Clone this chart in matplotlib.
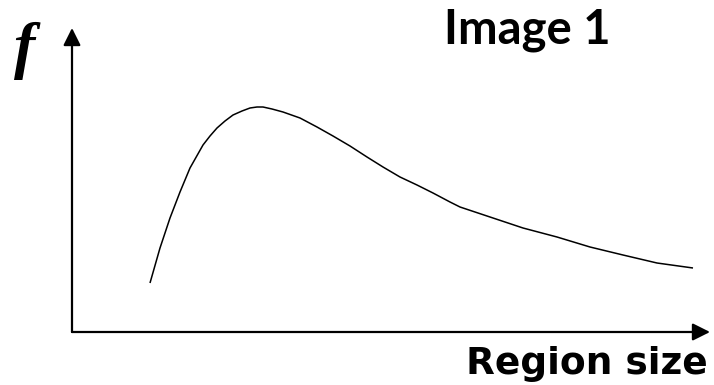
import matplotlib
matplotlib.use('Agg')
import matplotlib.pyplot as plt

# curve (arbitrary units)
region_size = [78, 88, 98, 108, 118, 131, 138, 145, 153, 161, 170, 178, 185, 191, 200, 211,
               228, 245, 261, 278, 295, 311, 328, 345, 361, 378, 388, 418, 451, 485, 518,
               551, 585, 621]
f_values = [49, 84, 114, 140, 164, 187, 196, 204, 211, 217, 221, 224, 225, 225, 223, 220,
            214, 205, 196, 186, 175, 165, 155, 147, 139, 130, 125, 115, 104, 95, 85,
            77, 69, 64]

x_max = 638
y_max = 304

fig = plt.figure(figsize=(7.14, 3.85), dpi=100)
ax = fig.add_axes([72 / 714, 53 / 385, 638 / 714, 304 / 385])
ax.set_xlim(0, x_max)
ax.set_ylim(0, y_max)
ax.axis('off')

ax.plot(region_size, f_values, color='black', lw=1.1, solid_capstyle='butt')

# axes drawn as arrows
arrow = dict(arrowstyle='-|>,head_length=0.7,head_width=0.35', lw=1.6, color='black',
             mutation_scale=15, shrinkA=0, shrinkB=0)
ax.annotate('', xy=(x_max, 0), xytext=(0, 0), arrowprops=arrow, annotation_clip=False)
ax.annotate('', xy=(0, y_max), xytext=(0, 0), arrowprops=arrow, annotation_clip=False)

fig.text(444 / 714, 1 - 44 / 385, 'Image 1', fontsize=34, fontweight='bold',
         family='Lato', ha='left', va='baseline')
fig.text(466 / 714, 11 / 385, 'Region size', fontsize=27, fontweight='bold',
         family='DejaVu Sans', ha='left', va='baseline')
fig.text(14 / 714, 1 - 66 / 385, 'f', fontsize=46, fontweight='bold', fontstyle='italic',
         family='Liberation Serif', ha='left', va='baseline')

fig.savefig('out.png', dpi=100)
